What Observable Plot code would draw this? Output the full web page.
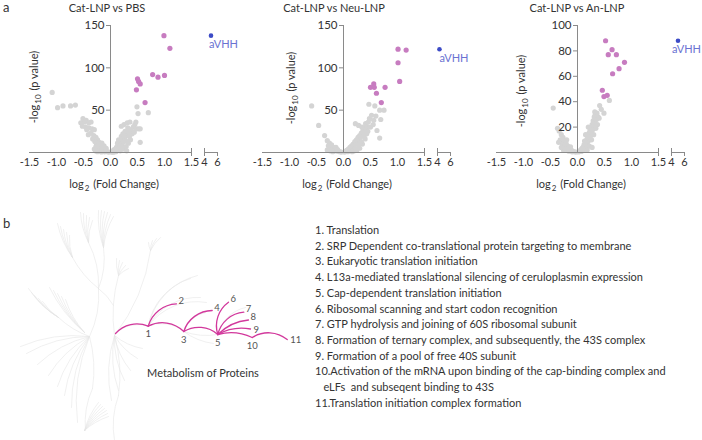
<!DOCTYPE html>
<html><head><meta charset="utf-8">
<script src="https://cdn.jsdelivr.net/npm/d3@7"></script>
<script src="https://cdn.jsdelivr.net/npm/@observablehq/plot@0.6"></script>
<style>
body{margin:0;background:#fff;}
#fig{position:relative;width:702px;height:440px;font-family:Lato,"Open Sans",sans-serif;color:#333;overflow:hidden;background:#fff;}
#fig > div, #fig > svg{position:absolute;}
.t{white-space:nowrap;font-size:11px;line-height:13px;color:#333;}
.c{transform:translateX(-50%);}
.yl{transform:translate(-50%,-50%) rotate(-90deg);}
sub{font-size:8px;vertical-align:-3px;line-height:0;margin:0 1px;}
.list{font-size:11px;line-height:15.7px;white-space:pre;color:#333;}
.panel{font-size:13px;line-height:13px;color:#333;}
</style></head>
<body><div id="fig"></div>
<script>
// ---------- panel a: volcano data ----------
const panelTitles = ["Cat-LNP vs PBS", "Cat-LNP vs Neu-LNP", "Cat-LNP vs An-LNP"];
const xTicks = [-1.5, -1, -0.5, 0, 0.5, 1, 1.5, 4, 6];
const xTickLabels = ["-1.5", "-1.0", "-0.5", "0.0", "0.5", "1.0", "1.5", "4", "6"];
const xSegments = [{x1: -1.5, x2: 1.5}, {x1: 4, x2: 6}];
const xBreaks = [1.5, 4];
const xEnd = [6];
const yTicks1 = [50, 100, 150];
const yTicks2 = [50, 100, 150];
const yTicks3 = [20, 40, 60, 80, 100];

const grey1 = [[-1.08,71],[-0.98,53],[-0.88,55],[-0.74,55],[-0.65,56],
 [-0.55,35],[-0.51,40],[-0.48,36],[-0.45,38],[-0.40,35],[-0.36,36],[-0.52,31],[-0.46,30],[-0.44,27],[-0.40,29],[-0.34,28],[-0.30,27],[-0.36,23],[-0.41,21],[-0.31,20],[-0.27,18],[-0.33,16],[-0.24,15],[-0.29,13],[-0.21,12],[-0.26,10],[-0.19,9],[-0.23,7],[-0.16,7],[-0.20,5],[-0.14,5],[-0.25,4],[-0.18,3],[-0.12,3],[-0.28,2],[-0.22,2],[-0.15,1.5],[-0.09,2],[-0.06,1],[-0.11,0.8],[-0.03,0.5],[-0.17,0.7],[-0.24,1],[-0.30,4],[-0.27,7],[-0.22,10],[-0.16,11],[-0.12,8],[-0.08,5],
 [0.02,0.5],[0.04,1.5],[0.07,1],[0.06,3],[0.09,4],[0.12,2],[0.11,6],[0.14,8],[0.16,5],[0.13,11],[0.17,10],[0.19,13],[0.21,8],[0.15,15],[0.22,16],[0.24,12],[0.20,19],[0.26,18],[0.28,14],[0.23,22],[0.30,21],[0.27,25],[0.33,24],[0.35,19],[0.20,31],[0.25,33],[0.31,35],[0.36,36],[0.38,27],[0.42,30],[0.45,33],[0.48,28],[0.52,28],[0.55,28],[0.47,36],[0.51,46],[0.49,54],[0.70,47],[0.55,12],[0.40,22],[0.32,29],[0.18,2],[0.24,4],[0.29,7],[0.33,11],[0.37,15],[0.44,24],[0.10,1],[0.05,0.3],[0.30,2]];
const hits1 = [[0.99,138],[1.10,123],[0.78,92],[0.88,89],[1.00,91],[0.50,87],[0.52,84],[0.55,81],[0.48,74],[0.64,59]];
const vhh1 = [5.0, 138];

const grey2 = [[-0.59,55],[-0.46,32],[-0.35,20],[-0.30,14],[-0.26,11],[-0.28,8],[-0.22,9],[-0.24,5],[-0.19,6],[-0.21,3],[-0.16,4],[-0.13,2],[-0.18,1.5],[-0.10,1.5],[-0.07,1],[-0.25,2],[-0.30,3],[-0.14,6],[-0.04,0.5],[-0.11,3.5],[-0.20,1],
 [0.02,0.5],[0.04,1.5],[0.06,2.5],[0.08,1],[0.09,4],[0.11,3],[0.12,6],[0.14,5],[0.15,8],[0.17,7],[0.18,10],[0.20,9],[0.21,13],[0.23,11],[0.24,15],[0.26,14],[0.27,18],[0.29,16],[0.30,20],[0.32,19],[0.33,23],[0.35,21],[0.36,26],[0.38,24],[0.39,29],[0.41,27],[0.42,32],[0.44,30],[0.22,34],[0.28,32],[0.34,30],[0.41,34],[0.46,36],[0.48,40],[0.52,44],[0.47,57],[0.58,55],[0.67,50],[0.75,50],[0.69,39],[0.62,26],[0.67,17],[0.55,33],[0.50,30],[0.45,25],[0.30,5],[0.25,3],[0.20,2],[0.35,10],[0.40,16],[0.16,1],[0.22,5],[0.28,9],[0.33,13],[0.38,19],[0.43,22],[0.56,38],[0.60,43]];
const hits2 = [[1.01,122],[1.16,121],[1.01,106],[1.04,84],[0.56,81],[0.50,77],[0.57,77],[0.77,77],[0.61,70],[0.70,59]];
const vhh2 = [4.3, 122];

const grey3 = [[-0.45,35],[-0.37,19],[-0.34,17],[-0.30,14],[-0.27,12],[-0.32,10],[-0.24,9],[-0.28,7],[-0.21,7],[-0.25,5],[-0.18,5],[-0.22,3],[-0.15,3],[-0.19,2],[-0.12,2],[-0.16,1],[-0.09,1.2],[-0.06,0.6],[-0.26,2],[-0.30,4],[-0.13,4.5],[-0.20,10],[-0.35,8],[-0.03,0.3],[-0.10,0.5],
 [0.02,0.4],[0.04,1.2],[0.06,2],[0.08,3],[0.07,0.8],[0.10,4],[0.11,2],[0.12,6],[0.14,5],[0.15,8],[0.16,3],[0.17,10],[0.18,7],[0.19,12],[0.20,9],[0.21,15],[0.22,11],[0.23,17],[0.24,13],[0.25,20],[0.26,16],[0.27,22],[0.28,18],[0.29,25],[0.30,21],[0.31,28],[0.32,24],[0.33,30],[0.35,26],[0.36,31],[0.38,28],[0.41,37],[0.49,31],[0.59,41],[0.32,32],[0.44,34],[0.40,27],[0.37,22],[0.34,19],[0.30,14],[0.26,10],[0.22,5],[0.18,2],[0.27,4],[0.20,20],[0.15,14],[0.13,9]];
const hits3 = [[0.52,88],[0.64,81],[0.57,77],[0.72,77],[0.87,71],[0.77,66],[0.65,62],[0.46,49],[0.49,44],[0.55,45]];
const vhh3 = [5.0, 88];

// ---------- panel b: pathway tree (layout units) ----------
const pathNodes = [
  {id: 0, x: 115, y: 153}, {id: 1, x: 147.7, y: 145.7}, {id: 2, x: 176, y: 123.3},
  {id: 3, x: 183.3, y: 151}, {id: 4, x: 211.7, y: 130}, {id: 5, x: 217.3, y: 154},
  {id: 6, x: 228, y: 121.7}, {id: 7, x: 243.3, y: 131.7}, {id: 8, x: 248, y: 139.5},
  {id: 9, x: 250, y: 148.5}, {id: 10, x: 251.7, y: 157}, {id: 11, x: 286.7, y: 159}
];
const pathArcs = [[0,1],[1,2],[1,3],[3,4],[3,5],[5,6],[5,7],[10,11]];
const pathFlat = [[5,8],[5,9],[5,10]];
const leafUpIds = [2, 4, 6, 7, 8];
const leafSideIds = [9, 11];
const innerIds = [1, 3, 5, 10];

const greyNeg = [[89,156,20,166],[89,156,26,173],[89,156,37,184],[89,156,48,195],[89,156,57,206],[89,156,64,215],[89,156,71,227],[89,156,77,242],
  [114,155,142,168],[114,155,137,178],[114,155,130,190],[114,155,124,200],[114,155,118,210],[114,155,111,220],
  [89,156,98,108],[98,108,88,62],[98,108,103,67],[92,208,85,250],[118,215,114,260],[183.3,151,213,163],[183.3,151,217.3,154],[114,155,150,70]];
const greyPos = [[89,156,58,137],[58,137,28,108],[58,137,31,112],[58,137,34,115],[58,137,38,118],[58,137,42,121],
  [84,152,49,107],[84,152,53,110],[84,152,57,113],[84,152,61,116],[84,152,65,119],
  [98,108,72,77],[72,77,57,43],[72,77,60,46],[72,77,63,49],[72,77,66,52],[72,77,69,55],
  [88,62,80,32],[88,62,83,33],[88,62,86,35],[88,62,89,37],[88,62,92,40],
  [103,67,98,30],[103,67,101,30],[103,67,104,31],[103,67,107,32],[103,67,110,34],[103,67,113,36],
  [98,108,113,125],[114,155,118,95],[118,95,116,78],[118,95,119,80],[118,95,122,82],[118,95,125,85],[118,95,128,88],
  [150,70,148,62],[150,70,152,60],[150,70,156,58],[150,70,160,57],
  [114,155,118,215],[89,156,92,208],
  [84,250,98,222],[84,250,100,224],[84,250,102,226],[84,250,104,228],[84,250,106,230],[84,250,107,233],[84,250,108,236]];
const greyArcs = [[147.7,145.7,190,98],[147.7,145.7,197,95],[147.7,145.7,200,117],[147.7,145.7,206,122],
  [183.3,151,205,132],[217.3,154,245,127],[115,153,147.7,145.7],[147.7,145.7,183.3,151]];

const pathwayNames = [
  "Translation",
  "SRP Dependent co-translational protein targeting to membrane",
  "Eukaryotic translation initiation",
  "L13a-mediated translational silencing of ceruloplasmin expression",
  "Cap-dependent translation initiation",
  "Ribosomal scanning and start codon recognition",
  "GTP hydrolysis and joining of 60S ribosomal subunit",
  "Formation of ternary complex, and subsequently, the 43S complex",
  "Formation of a pool of free 40S subunit",
  "Activation of the mRNA upon binding of the cap-binding complex and\neLFs  and subseqent binding to 43S",
  "Translation initiation complex formation"
];
const treeCaption = "Metabolism of Proteins";

// ---------- drawing ----------
const fig = document.getElementById("fig");
const FONT = "Lato, 'Open Sans', sans-serif";
const GREY = "#d4d4d4", HIT = "#c77cc0", VHH = "#3c4bc6", VHHTXT = "#6a72d2", AX = "#8a8a8a", TXT = "#333";

function addDiv(html, cls, left, top) {
  const d = document.createElement("div");
  d.className = cls; d.innerHTML = html;
  d.style.left = left + "px"; d.style.top = top + "px";
  fig.appendChild(d); return d;
}

function volcano(p) {
  const H = 195, base = 152;
  const svg = Plot.plot({
    width: 234, height: H, marginTop: 0, marginBottom: H - base, marginLeft: 0, marginRight: 0,
    x: {type: "linear", domain: [-1.5, 1.5, 4, 6], range: [29, 191, 204, 217], axis: null},
    y: {domain: [0, p.yMax], range: [base, 25], axis: null},
    style: {background: "transparent", overflow: "visible", fontFamily: FONT},
    marks: [
      Plot.dot(p.grey, {x: d => d[0], y: d => d[1], r: 2.6, fill: GREY}),
      Plot.dot(p.hits, {x: d => d[0], y: d => d[1], r: 2.6, fill: HIT}),
      Plot.dot([p.vhh], {x: d => d[0], y: d => d[1], r: 2.3, fill: VHH}),
      Plot.text([p.vhh], {x: d => d[0], y: d => d[1], text: () => "aVHH", textAnchor: "start", dx: p.vhhDx, dy: 9, fill: VHHTXT, fontSize: 11}),
      Plot.ruleY(xSegments, {x1: "x1", x2: "x2", y: () => 0, stroke: AX, strokeWidth: 1}),
      Plot.ruleX(xBreaks, {x: d => d, y1: () => 0, y2: () => 0, insetTop: -4, insetBottom: -4, stroke: AX}),
      Plot.ruleX(xEnd, {x: d => d, y1: () => 0, y2: () => 0, insetTop: 0, insetBottom: -4, stroke: AX}),
      Plot.ruleX([0], {x: d => d, y1: () => 0, y2: () => p.yMax, stroke: AX}),
      Plot.ruleY(p.yTicks, {y: d => d, x1: () => 0, x2: () => 0, insetLeft: -4, stroke: AX}),
      Plot.text(p.yTicks, {x: () => 0, y: d => d, text: d => String(d), textAnchor: "end", dx: -6, fontSize: 11.5, fill: TXT}),
      Plot.text(xTicks, {x: d => d, y: () => 0, text: (d, i) => xTickLabels[i], dy: 10, fontSize: 11, fill: TXT})
    ]
  });
  svg.style.left = p.left + "px"; svg.style.top = "0px";
  fig.appendChild(svg);
  addDiv(p.title, "t c", p.left + p.titleX, 1);
  addDiv("log<sub>2</sub> (Fold Change)", "t c", p.left + 114, 177);
  addDiv("-log<sub>10</sub> (p value)", "t yl", p.left + p.ylabX, p.ylabY);
}

volcano({left: 0, title: panelTitles[0], titleX: 107, grey: grey1, hits: hits1, vhh: vhh1, yTicks: yTicks1, yMax: 150, vhhDx: -2, ylabX: 33, ylabY: 87});
volcano({left: 233, title: panelTitles[1], titleX: 101, grey: grey2, hits: hits2, vhh: vhh2, yTicks: yTicks2, yMax: 150, vhhDx: 0, ylabX: 57, ylabY: 88});
volcano({left: 467, title: panelTitles[2], titleX: 110, grey: grey3, hits: hits3, vhh: vhh3, yTicks: yTicks3, yMax: 100, vhhDx: -6, ylabX: 53, ylabY: 91});

// panel letters
addDiv("a", "panel", 3, 1);
addDiv("b", "panel", 3, 217);

// tree
const nodeById = new Map(pathNodes.map(n => [n.id, n]));
const toLink = ([a, b]) => ({x1: nodeById.get(a).x, y1: nodeById.get(a).y, x2: nodeById.get(b).x, y2: nodeById.get(b).y});
const seg = d => ({x1: d[0], y1: d[1], x2: d[2], y2: d[3]});
const greyStyle = {x1: "x1", y1: "y1", x2: "x2", y2: "y2", headLength: 0, stroke: "#e6e6e6", strokeWidth: 0.6};
const magStyle = {x1: "x1", y1: "y1", x2: "x2", y2: "y2", headLength: 0, stroke: "#d2389c", strokeWidth: 1.3};
const labelStyle = {x: "x", y: "y", text: d => String(d.id), fontSize: 9.5, fill: "#555"};
const tree = Plot.plot({
  width: 310, height: 260, margin: 0,
  x: {domain: [0, 310], range: [0, 310], axis: null},
  y: {domain: [0, 260], range: [0, 260], axis: null},
  style: {background: "transparent", overflow: "visible", fontFamily: FONT},
  marks: [
    Plot.arrow(greyNeg.map(seg), {...greyStyle, bend: -15}),
    Plot.arrow(greyPos.map(seg), {...greyStyle, bend: 12}),
    Plot.arrow(greyArcs.map(seg), {...greyStyle, bend: 32}),
    Plot.arrow(pathArcs.map(toLink), {...magStyle, bend: 36}),
    Plot.arrow(pathFlat.map(toLink), {...magStyle, bend: 20}),
    Plot.text(leafUpIds.map(i => nodeById.get(i)), {...labelStyle, textAnchor: "start", dx: 2, dy: -3}),
    Plot.text(leafSideIds.map(i => nodeById.get(i)), {...labelStyle, textAnchor: "start", dx: 3, dy: 0.5}),
    Plot.text(innerIds.map(i => nodeById.get(i)), {...labelStyle, dy: 8})
  ]
});
tree.style.left = "0px"; tree.style.top = "180px";
fig.appendChild(tree);
addDiv(treeCaption, "t c", 203, 366);

// pathway list
const listHtml = pathwayNames.map((n, i) => {
  const num = (i + 1) + (i >= 9 ? "." : ". ");
  return num + n.replace("\n", "\n   ");
}).join("\n");
const lst = addDiv("", "list", 315, 222);
lst.textContent = listHtml;
</script></body></html>
